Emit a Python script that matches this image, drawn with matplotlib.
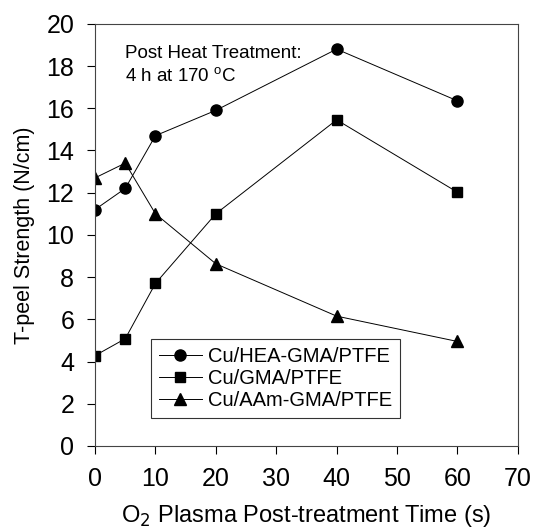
import numpy as np
import matplotlib.pyplot as plt

plt.rcParams['font.family'] = ['Liberation Sans', 'DejaVu Sans']

# data
time_s = [0, 5, 10, 20, 40, 60]
hea_gma = [11.2, 12.2, 14.7, 15.9, 18.8, 16.35]
gma = [4.28, 5.08, 7.7, 11.0, 15.45, 12.02]
aam_gma = [12.7, 13.4, 11.0, 8.63, 6.15, 4.95]

labels = ['Cu/HEA-GMA/PTFE', 'Cu/GMA/PTFE', 'Cu/AAm-GMA/PTFE']

fig = plt.figure(figsize=(5.4, 5.29), dpi=100)
ax = fig.add_axes([0.176, 0.157, 0.783, 0.798])

ax.plot(time_s, hea_gma, color='black', lw=0.7, marker='o', ms=8, label=labels[0])
ax.plot(time_s, gma, color='black', lw=0.7, marker='s', ms=7, label=labels[1])
ax.plot(time_s, aam_gma, color='black', lw=0.7, marker='^', ms=8.5, label=labels[2])

ax.set_xlim(0, 70)
ax.set_ylim(0, 20)
ax.set_xticks(np.arange(0, 71, 10))
ax.set_yticks(np.arange(0, 21, 2))
ax.tick_params(direction='out', length=6, width=0.8, labelsize=18, pad=9)
for s in ax.spines.values():
    s.set_linewidth(0.8)
    s.set_color('#444444')

ax.set_xlabel('O$_2$ Plasma Post-treatment Time (s)', fontsize=17, labelpad=9)
ax.set_ylabel('T-peel Strength (N/cm)', fontsize=15.5, labelpad=8)

ax.text(5, 17.25, 'Post Heat Treatment:\n4 h at 170 $^{\\mathregular{o}}$C', fontsize=13.5,
        linespacing=1.35)

leg = ax.legend(loc='lower left', bbox_to_anchor=(0.133, 0.066), fontsize=14.5,
                frameon=True, fancybox=False, edgecolor='black', handlelength=2.1,
                handletextpad=0.3, borderpad=0.4, labelspacing=0.15, borderaxespad=0)
leg.get_frame().set_linewidth(0.8)

fig.savefig('out.png', dpi=100)
